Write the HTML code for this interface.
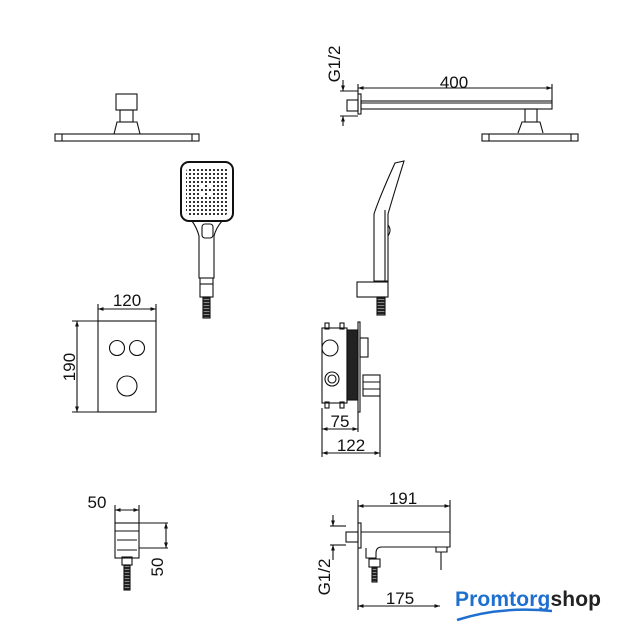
<!DOCTYPE html>
<html><head><meta charset="utf-8"><style>html,body{margin:0;padding:0;background:#fff}svg{display:block}text{font-family:"Liberation Sans",sans-serif;fill:#111}</style></head><body>
<svg width="640" height="640" viewBox="0 0 640 640" xmlns="http://www.w3.org/2000/svg">
<defs>
<marker id="a" viewBox="0 0 10 10" refX="10" refY="5" markerWidth="6" markerHeight="5" orient="auto-start-reverse"><path d="M0 1.5L10 5L0 8.5z" fill="#111"/></marker>
<pattern id="dots" width="4" height="4" patternUnits="userSpaceOnUse"><rect width="4" height="4" fill="#fff"/><rect x="1" y="1" width="2" height="2" fill="#333"/></pattern>
<pattern id="hose" width="4" height="3" patternUnits="userSpaceOnUse"><rect width="4" height="3" fill="#222"/><rect y="2" width="4" height="1" fill="#888"/></pattern>
</defs>
<g fill="none" stroke="#111" stroke-width="1.1">
<rect x="55" y="134" width="144" height="7"/>
<line x1="62" y1="134" x2="62" y2="141"/><line x1="192" y1="134" x2="192" y2="141"/>
<path d="M114 134L117 122H137L140 134"/>
<rect x="120" y="110" width="13" height="12"/>
<rect x="116" y="94" width="21" height="16"/>
<rect x="181" y="162" width="52" height="59" rx="8" stroke-width="2"/>
<rect x="186" y="167" width="42" height="49" rx="5" fill="url(#dots)" stroke="none"/>
<rect x="201" y="183" width="4" height="4" fill="#fff" stroke="none"/><rect x="209" y="183" width="4" height="4" fill="#fff" stroke="none"/>
<rect x="201" y="193" width="4" height="4" fill="#fff" stroke="none"/><rect x="209" y="193" width="4" height="4" fill="#fff" stroke="none"/>
<path d="M192 221Q197 228 199 236V278H214V236Q216 228 222 221"/>
<rect x="202" y="224" width="11" height="14" rx="3"/>
<rect x="200" y="278" width="13" height="19"/>
<line x1="200" y1="284" x2="213" y2="284"/>
<rect x="203" y="297" width="7" height="21" fill="url(#hose)"/>
<rect x="347" y="100" width="11" height="11"/>
<rect x="358" y="94" width="3" height="20"/>
<rect x="361" y="101" width="191" height="8"/>
<line x1="361" y1="103" x2="552" y2="103"/>
<rect x="525" y="109" width="12" height="13"/>
<path d="M518 133L522 122H540L543 133"/>
<rect x="482" y="134" width="96" height="7"/>
<line x1="489" y1="134" x2="489" y2="141"/><line x1="571" y1="134" x2="571" y2="141"/>
<line x1="358" y1="84" x2="358" y2="94"/><line x1="552" y1="84" x2="552" y2="101"/>
<line x1="358" y1="88" x2="552" y2="88" marker-start="url(#a)" marker-end="url(#a)"/>
<line x1="343" y1="80" x2="343" y2="91" marker-end="url(#a)"/>
<line x1="343" y1="126" x2="343" y2="116" marker-end="url(#a)"/>
<line x1="340" y1="91" x2="358" y2="91"/><line x1="340" y1="116" x2="358" y2="116"/>
<path d="M395 163L404 161Q392 200 388 214V281H374V214Q380 196 395 163Z"/>
<line x1="385" y1="210" x2="385" y2="281"/>
<path d="M388 225Q392 230 388 236"/>
<rect x="357" y="282" width="31" height="15"/>
<rect x="377" y="297" width="8" height="18" fill="url(#hose)"/>
<rect x="98" y="321" width="58" height="91"/>
<circle cx="117" cy="348" r="7.5"/><circle cx="137" cy="348" r="7.5"/>
<circle cx="127" cy="386" r="10"/>
<line x1="98" y1="304" x2="98" y2="321"/><line x1="156" y1="304" x2="156" y2="321"/>
<line x1="98" y1="309" x2="156" y2="309" marker-start="url(#a)" marker-end="url(#a)"/>
<line x1="72" y1="321" x2="98" y2="321"/><line x1="72" y1="412" x2="98" y2="412"/>
<line x1="77" y1="321" x2="77" y2="412" marker-start="url(#a)" marker-end="url(#a)"/>
<rect x="322" y="328" width="25" height="75"/>
<rect x="325" y="323" width="4" height="6"/><rect x="340" y="323" width="4" height="6"/>
<rect x="325" y="402" width="4" height="6"/><rect x="340" y="402" width="4" height="6"/>
<rect x="347" y="330" width="11" height="70" fill="#222"/>
<rect x="358" y="322" width="2" height="90"/>
<rect x="360" y="338" width="8" height="19"/>
<rect x="363" y="375" width="17" height="21"/>
<line x1="363" y1="382" x2="380" y2="382"/><line x1="363" y1="389" x2="380" y2="389"/>
<circle cx="330" cy="348" r="8"/>
<circle cx="332" cy="379" r="7"/><circle cx="332" cy="379" r="4"/>
<line x1="322" y1="408" x2="322" y2="457"/><line x1="358" y1="412" x2="358" y2="432"/><line x1="380" y1="396" x2="380" y2="457"/>
<line x1="322" y1="429" x2="358" y2="429" marker-start="url(#a)" marker-end="url(#a)"/>
<line x1="322" y1="453" x2="380" y2="453" marker-start="url(#a)" marker-end="url(#a)"/>
<rect x="115" y="523" width="24" height="35"/>
<line x1="115" y1="531" x2="139" y2="531"/><line x1="117" y1="540" x2="137" y2="540"/><line x1="117" y1="550" x2="137" y2="550"/>
<rect x="122" y="557" width="10" height="8"/>
<rect x="124" y="565" width="6" height="25" fill="url(#hose)"/>
<line x1="115" y1="505" x2="115" y2="523"/><line x1="139" y1="505" x2="139" y2="523"/>
<line x1="115" y1="510" x2="139" y2="510" marker-start="url(#a)" marker-end="url(#a)"/>
<line x1="139" y1="523" x2="168" y2="523"/><line x1="139" y1="548" x2="168" y2="548"/>
<line x1="166" y1="523" x2="166" y2="548" marker-start="url(#a)" marker-end="url(#a)"/>
<rect x="346" y="532" width="12" height="10"/>
<rect x="358" y="523" width="3" height="25"/>
<path d="M361 532H450V547H382Q376 547 376 553V558H366V548"/>
<path d="M436 547V552H447V547"/>
<rect x="369" y="559" width="11" height="8"/>
<rect x="372" y="567" width="5" height="15" fill="url(#hose)"/>
<line x1="358" y1="500" x2="358" y2="523"/><line x1="450" y1="500" x2="450" y2="532"/>
<line x1="358" y1="506" x2="450" y2="506" marker-start="url(#a)" marker-end="url(#a)"/>
<line x1="358" y1="548" x2="358" y2="610"/><line x1="441" y1="552" x2="441" y2="570"/>
<line x1="358" y1="606" x2="440" y2="606" marker-start="url(#a)" marker-end="url(#a)"/>
<line x1="333" y1="515" x2="333" y2="526" marker-end="url(#a)"/>
<line x1="333" y1="560" x2="333" y2="545" marker-end="url(#a)"/>
<line x1="330" y1="526" x2="346" y2="526"/><line x1="330" y1="545" x2="346" y2="545"/>
</g>
<g font-size="17" text-anchor="middle">
<text x="454" y="88">400</text>
<text transform="translate(340 64) rotate(-90)">G1/2</text>
<text x="127" y="306">120</text>
<text transform="translate(75 367) rotate(-90)">190</text>
<text x="340" y="427">75</text>
<text x="351" y="451">122</text>
<text x="97" y="508">50</text>
<text transform="translate(163 567) rotate(-90)">50</text>
<text x="403" y="504">191</text>
<text transform="translate(330 577) rotate(-90)">G1/2</text>
<text x="400" y="604">175</text>
</g>
<text x="455" y="606" font-size="21" font-weight="bold" textLength="146" style="fill:#1f6fd0">Promtorg<tspan style="fill:#222">shop</tspan></text>
<path d="M457 620Q500 606 552 611" fill="none" stroke="#1f6fd0" stroke-width="2.5"/>
</svg>
</body></html>
